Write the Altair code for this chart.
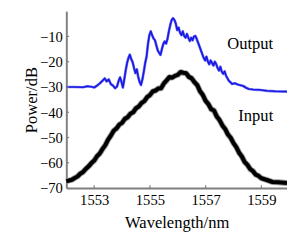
import altair as alt
import pandas as pd

# Output spectrum (blue)
out_wl = [1552.00, 1552.30, 1552.60, 1552.75, 1552.90, 1553.00, 1553.10, 1553.20, 1553.30, 1553.38,
          1553.45, 1553.52, 1553.60, 1553.68, 1553.75, 1553.82, 1553.88, 1553.93, 1553.98, 1554.03,
          1554.08, 1554.13, 1554.18, 1554.23, 1554.28, 1554.33, 1554.38, 1554.43, 1554.48, 1554.53,
          1554.58, 1554.63, 1554.68, 1554.73, 1554.78, 1554.83, 1554.88, 1554.93, 1554.98, 1555.03,
          1555.08, 1555.13, 1555.18, 1555.23, 1555.28, 1555.33, 1555.38, 1555.43, 1555.48, 1555.53,
          1555.58, 1555.63, 1555.68, 1555.73, 1555.78, 1555.83, 1555.88, 1555.93, 1555.98, 1556.03,
          1556.08, 1556.13, 1556.18, 1556.23, 1556.28, 1556.33, 1556.38, 1556.43, 1556.48, 1556.53,
          1556.58, 1556.63, 1556.68, 1556.73, 1556.78, 1556.83, 1556.88, 1556.93, 1556.98, 1557.03,
          1557.08, 1557.13, 1557.18, 1557.23, 1557.28, 1557.33, 1557.38, 1557.43, 1557.48, 1557.53,
          1557.58, 1557.63, 1557.68, 1557.73, 1557.78, 1557.83, 1557.88, 1557.95, 1558.05, 1558.15,
          1558.25, 1558.35, 1558.45, 1558.55, 1558.70, 1558.90, 1559.20, 1559.50, 1559.92]
out_db = [-30.0, -30.0, -30.1, -29.7, -29.9, -30.2, -29.5, -28.6, -27.5, -26.6,
          -27.8, -27.0, -28.9, -29.5, -30.5, -29.8, -27.5, -26.2, -28.0, -30.2,
          -27.0, -23.5, -20.5, -18.5, -17.2, -19.0, -20.2, -22.5, -24.5, -23.0,
          -26.0, -28.0, -29.2, -27.0, -24.0, -20.5, -18.0, -13.0, -9.5, -8.0,
          -9.5, -10.8, -11.5, -13.5, -15.5, -16.5, -17.3, -15.0, -13.0, -12.0,
          -12.8, -11.0, -8.0, -5.5, -3.5, -2.8, -3.5, -5.0, -7.5, -6.5,
          -8.5, -9.5, -8.0, -9.8, -10.5, -9.0, -10.5, -11.8, -10.5, -11.5,
          -10.0, -9.8, -11.0, -12.5, -14.0, -15.5, -17.0, -18.5, -19.5, -18.0,
          -20.0, -21.0, -19.5, -20.5, -21.5, -20.0, -21.0, -22.5, -23.5, -22.0,
          -24.0, -24.8, -23.8, -25.5, -26.5, -27.5, -28.0, -28.8, -28.5, -29.0,
          -29.3, -29.6, -30.3, -30.8, -31.0, -31.1, -31.5, -31.7, -31.8]

# Input spectrum (black)
in_wl = [1552.0, 1552.1, 1552.2, 1552.3, 1552.4, 1552.5, 1552.6, 1552.7, 1552.8, 1552.9,
         1553.0, 1553.1, 1553.2, 1553.3, 1553.4, 1553.5, 1553.6, 1553.7, 1553.8, 1553.9,
         1554.0, 1554.1, 1554.2, 1554.3, 1554.4, 1554.5, 1554.6, 1554.7, 1554.8, 1554.9,
         1555.0, 1555.1, 1555.2, 1555.3, 1555.4, 1555.5, 1555.6, 1555.7, 1555.8, 1555.9,
         1556.0, 1556.1, 1556.2, 1556.3, 1556.4, 1556.5, 1556.6, 1556.7, 1556.8, 1556.9,
         1557.0, 1557.1, 1557.2, 1557.3, 1557.4, 1557.5, 1557.6, 1557.7, 1557.8, 1557.9,
         1558.0, 1558.1, 1558.2, 1558.3, 1558.4, 1558.5, 1558.6, 1558.7, 1558.8, 1558.9,
         1559.0, 1559.2, 1559.4, 1559.6, 1559.92]
in_db = [-67.3, -67.0, -66.7, -66.0, -65.4, -64.3, -63.6, -62.4, -61.4, -60.1,
         -59.1, -57.4, -56.3, -54.5, -53.0, -50.8, -49.2, -47.3, -46.4, -44.9,
         -44.2, -42.6, -42.0, -40.6, -40.0, -38.4, -37.7, -36.3, -35.6, -34.0,
         -33.2, -31.8, -31.4, -30.6, -30.5, -28.6, -27.4, -26.1, -26.3, -25.6,
         -25.2, -24.1, -24.4, -24.6, -26.0, -26.6, -28.1, -29.3, -31.7, -33.2,
         -35.5, -36.8, -38.8, -39.3, -41.7, -43.1, -45.2, -46.6, -48.8, -50.1,
         -52.2, -53.8, -56.0, -57.5, -59.7, -60.8, -62.5, -63.3, -64.7, -65.2,
         -66.1, -66.8, -67.6, -67.7, -68.0]

x_ticks = [1553, 1555, 1557, 1559]
y_ticks = [-70, -60, -50, -40, -30, -20, -10]

label_text = ["Output", "Input"]
label_wl = [1558.6, 1558.8]
label_db = [-13.2, -41.5]

XDOM = [1552, 1559.92]
YDOM = [-70, 0]
FONT = "Liberation Serif"

df_out = pd.DataFrame({"wl": out_wl, "db": out_db})
df_in = pd.DataFrame({"wl": in_wl, "db": in_db})
df_lab = pd.DataFrame({"t": label_text, "wl": label_wl, "db": label_db})
df_xt = pd.DataFrame({"wl": x_ticks, "y0": [-70] * 4, "y1": [-68.9] * 4})
df_yt = pd.DataFrame({"db": y_ticks[1:], "x0": [1552] * 6, "x1": [1552.1] * 6})

xs = alt.Scale(domain=XDOM, nice=False, zero=False)
ys = alt.Scale(domain=YDOM, nice=False, zero=False)

xax = alt.Axis(values=x_ticks, format="d", title="Wavelength/nm", labelPadding=5,
               titlePadding=8, labelOverlap=False)
yax = alt.Axis(values=y_ticks, format="d", title="Power/dB", labelPadding=4, titlePadding=-1,
               labelOverlap=False, labelExpr="replace(datum.label, '-', '\u2212')")


def X(field):
    return alt.X(field, type="quantitative", scale=xs, axis=xax)


def Y(field):
    return alt.Y(field, type="quantitative", scale=ys, axis=yax)


in_halo = alt.Chart(df_in).mark_line(color="#9a9a9a", strokeWidth=6.0, strokeJoin="round").encode(
    x=X("wl"), y=Y("db")
)
in_core = alt.Chart(df_in).mark_line(color="#000000", strokeWidth=4.2, strokeJoin="round").encode(
    x=X("wl"), y=Y("db")
)
out_halo = alt.Chart(df_out).mark_line(color="#8080f0", strokeWidth=2.8, strokeJoin="round").encode(
    x=X("wl"), y=Y("db")
)
out_core = alt.Chart(df_out).mark_line(color="#1a1ae6", strokeWidth=1.7, strokeJoin="round").encode(
    x=X("wl"), y=Y("db")
)
labels = alt.Chart(df_lab).mark_text(font=FONT, fontSize=17, color="#000000").encode(
    x=X("wl"), y=Y("db"), text="t:N"
)
xt = alt.Chart(df_xt).mark_rule(color="#7f7f7f", strokeWidth=1.2).encode(
    x=X("wl"), y=Y("y0"), y2="y1:Q"
)
yt = alt.Chart(df_yt).mark_rule(color="#7f7f7f", strokeWidth=1.2).encode(
    y=Y("db"), x=X("x0"), x2="x1:Q"
)

chart = alt.layer(in_halo, in_core, out_halo, out_core, labels, xt, yt).properties(
    width=227, height=182,
    autosize=alt.AutoSizeParams(type="none"),
    padding={"left": 60, "top": 0, "right": 0, "bottom": 45},
).configure_view(stroke=None).configure_axis(
    domainColor="#7f7f7f", domainWidth=2, ticks=False, grid=False,
    labelFont=FONT, labelFontSize=15, labelColor="#000000", labelOverlap=False,
    titleFont=FONT, titleFontSize=17, titleFontWeight="normal", titleColor="#000000",
)

chart.save("out.html", embed_options={"renderer": "svg", "actions": False})
